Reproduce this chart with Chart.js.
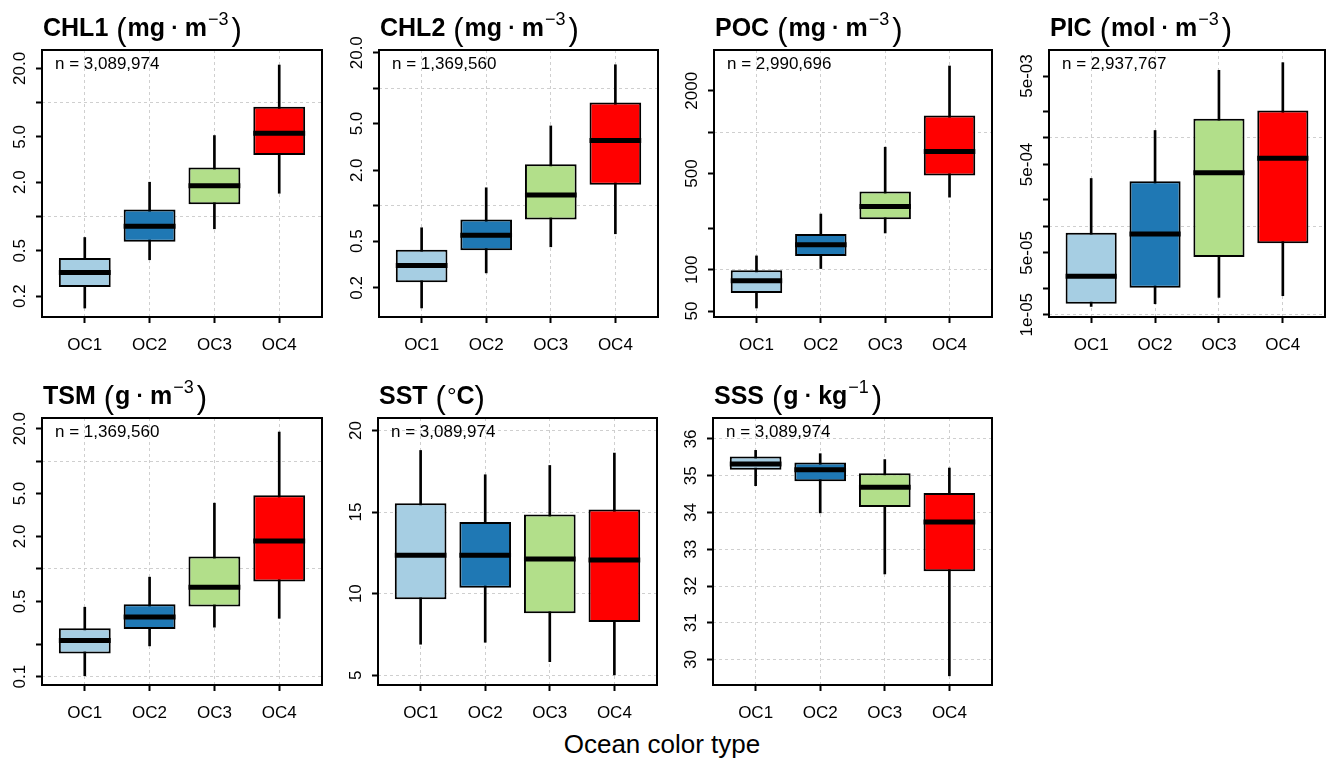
<!DOCTYPE html>
<html>
<head>
<meta charset="utf-8">
<script src="https://cdn.jsdelivr.net/npm/chart.js@4/dist/chart.umd.min.js"></script>
<style>
  body { margin: 0; background: #fff; width: 1330px; height: 761px; position: relative; overflow: hidden;
         font-family: "Liberation Sans", Arial, sans-serif; }
  canvas { position: absolute; }
  #xlab { position: absolute; top: 731px; left: 662px; transform: translateX(-50%);
          font-size: 26px; line-height: 26px; white-space: nowrap; color: #000; }
</style>
</head>
<body>
<div id="xlab">Ocean color type</div>
<script>
const categories = ['OC1', 'OC2', 'OC3', 'OC4'];
const boxColors = ['#a6cee3', '#1f78b4', '#b2df8a', '#ff0000'];

// per type: [lower whisker, Q1, median, Q3, upper whisker]
const chl1Stats = [
  [0.157, 0.240, 0.323, 0.431, 0.654],
  [0.417, 0.60, 0.82, 1.15, 2.0],
  [0.78, 1.28, 1.86, 2.69, 5.14],
  [1.60, 3.46, 5.39, 9.22, 21.4]
];
const chl2Stats = [
  [0.135, 0.223, 0.31, 0.421, 0.649],
  [0.268, 0.418, 0.561, 0.764, 1.42],
  [0.447, 0.764, 1.23, 2.25, 4.77],
  [0.577, 1.51, 3.58, 7.54, 15.8]
];
const pocStats = [
  [52.7, 67.7, 83.2, 98.9, 126],
  [102, 126, 152, 182, 254],
  [185, 233, 288, 370, 778],
  [337, 484, 723, 1321, 3030]
];
const picStats = [
  [1.24e-5, 1.33e-5, 2.72e-5, 8.42e-5, 3.47e-4],
  [1.33e-5, 2.02e-5, 8.2e-5, 3.23e-4, 1.21e-3],
  [1.57e-5, 4.5e-5, 4.02e-4, 1.64e-3, 5.8e-3],
  [1.64e-5, 6.42e-5, 5.89e-4, 2.04e-3, 7.08e-3]
];
const tsmStats = [
  [0.102, 0.164, 0.216, 0.281, 0.441],
  [0.193, 0.277, 0.358, 0.470, 0.838],
  [0.288, 0.447, 0.676, 1.30, 4.07],
  [0.348, 0.762, 1.81, 4.83, 18.6]
];
const sstStats = [
  [6.90, 9.66, 12.36, 15.55, 18.78],
  [7.02, 10.37, 12.36, 14.40, 17.29],
  [5.83, 8.80, 12.13, 14.85, 17.86],
  [5.02, 8.27, 12.06, 15.16, 18.62]
];
const sssStats = [
  [34.73, 35.16, 35.32, 35.52, 35.69],
  [33.99, 34.85, 35.16, 35.36, 35.60],
  [32.33, 34.15, 34.69, 35.07, 35.44],
  [29.56, 32.40, 33.74, 34.53, 35.21]
];

// axis ticks, labels (blank = tick without label), grid lines, limits
const chlTicks = [0.2, 0.5, 1, 2, 5, 10, 20];
const chlLabels = ['0.2', '0.5', '', '2.0', '5.0', '', '20.0'];
const chlGrid = [1, 10];
const chl1Range = [0.131, 29.0];
const chl2Range = [0.113, 21.1];
const pocTicks = [50, 100, 200, 500, 1000, 2000];
const pocLabels = ['50', '100', '', '500', '', '2000'];
const pocGrid = [100, 1000];
const pocRange = [45.3, 3960];
const picTicks = [1e-5, 2e-5, 5e-5, 1e-4, 2e-4, 5e-4, 1e-3, 2e-3, 5e-3];
const picLabels = ['1e-05', '', '5e-05', '', '', '5e-04', '', '', '5e-03'];
const picGrid = [1e-5, 1e-4, 1e-3];
const picRange = [9.42e-6, 9.84e-3];
const tsmTicks = [0.1, 0.2, 0.5, 1, 2, 5, 10, 20];
const tsmLabels = ['0.1', '', '0.5', '', '2.0', '5.0', '', '20.0'];
const tsmGrid = [0.1, 1, 10];
const tsmRange = [0.0837, 25.1];
const sstTicks = [5, 10, 15, 20];
const sstLabels = ['5', '10', '15', '20'];
const sstRange = [4.40, 20.77];
const sssTicks = [30, 31, 32, 33, 34, 35, 36];
const sssLabels = ['30', '31', '32', '33', '34', '35', '36'];
const sssRange = [29.31, 36.57];

const chl1N = 'n = 3,089,974';
const chl2N = 'n = 1,369,560';
const pocN = 'n = 2,990,696';
const picN = 'n = 2,937,767';
const tsmN = 'n = 1,369,560';
const sstN = 'n = 3,089,974';
const sssN = 'n = 3,089,974';

// title pieces: b = bold, p = bracket, d = centred dot, s = superscript, g = degree
const chl1Title = [['CHL1', 'b'], ['(', 'p'], ['mg', 'b'], ['·', 'd'], ['m', 'b'], ['−3', 's'], [')', 'p']];
const chl2Title = [['CHL2', 'b'], ['(', 'p'], ['mg', 'b'], ['·', 'd'], ['m', 'b'], ['−3', 's'], [')', 'p']];
const pocTitle = [['POC', 'b'], ['(', 'p'], ['mg', 'b'], ['·', 'd'], ['m', 'b'], ['−3', 's'], [')', 'p']];
const picTitle = [['PIC', 'b'], ['(', 'p'], ['mol', 'b'], ['·', 'd'], ['m', 'b'], ['−3', 's'], [')', 'p']];
const tsmTitle = [['TSM', 'b'], ['(', 'p'], ['g', 'b'], ['·', 'd'], ['m', 'b'], ['−3', 's'], [')', 'p']];
const sstTitle = [['SST', 'b'], ['(', 'p'], ['°', 'g'], ['C', 'b'], [')', 'p']];
const sssTitle = [['SSS', 'b'], ['(', 'p'], ['g', 'b'], ['·', 'd'], ['kg', 'b'], ['−1', 's'], [')', 'p']];

const FONT = '"Liberation Sans", Arial, sans-serif';
const GRID = '#cfcfcf';

const panels = [
  { stats: chl1Stats, ticks: chlTicks, labels: chlLabels, grid: chlGrid, range: chl1Range, n: chl1N, title: chl1Title, type: 'logarithmic', rect: [42, 50, 322, 317] },
  { stats: chl2Stats, ticks: chlTicks, labels: chlLabels, grid: chlGrid, range: chl2Range, n: chl2N, title: chl2Title, type: 'logarithmic', rect: [379, 50, 658, 317] },
  { stats: pocStats, ticks: pocTicks, labels: pocLabels, grid: pocGrid, range: pocRange, n: pocN, title: pocTitle, type: 'logarithmic', rect: [714, 50, 992, 317] },
  { stats: picStats, ticks: picTicks, labels: picLabels, grid: picGrid, range: picRange, n: picN, title: picTitle, type: 'logarithmic', rect: [1049, 50, 1325, 317] },
  { stats: tsmStats, ticks: tsmTicks, labels: tsmLabels, grid: tsmGrid, range: tsmRange, n: tsmN, title: tsmTitle, type: 'logarithmic', rect: [42, 418, 322, 685] },
  { stats: sstStats, ticks: sstTicks, labels: sstLabels, grid: sstTicks, range: sstRange, n: sstN, title: sstTitle, type: 'linear', rect: [378, 418, 657, 685] },
  { stats: sssStats, ticks: sssTicks, labels: sssLabels, grid: sssTicks, range: sssRange, n: sssN, title: sssTitle, type: 'linear', rect: [713, 418, 992, 685] }
];

function drawTitle(ctx, parts, x, y) {
  ctx.textAlign = 'left';
  ctx.textBaseline = 'alphabetic';
  parts.forEach(([t, k], i) => {
    if (k === 'b') {
      ctx.font = 'bold 25px ' + FONT;
      ctx.fillText(t, x, y);
      x += ctx.measureText(t).width;
      if (i === 0) x += 8;
    } else if (k === 'p') {
      ctx.font = '31px ' + FONT;
      ctx.fillText(t, x, y + 4);
      x += ctx.measureText(t).width + 1;
    } else if (k === 'd') {
      ctx.font = 'bold 22px ' + FONT;
      ctx.fillText(' · ', x, y - 1);
      x += ctx.measureText(' · ').width;
    } else if (k === 's') {
      ctx.font = '18px ' + FONT;
      ctx.fillText(t, x + 1, y - 11);
      x += ctx.measureText(t).width + 4;
    } else if (k === 'g') {
      ctx.font = '24px ' + FONT;
      ctx.fillText(t, x, y);
      x += ctx.measureText(t).width;
    }
  });
}

function makePanel(p) {
  const [L, T, R, B] = p.rect;
  const mL = 42, mT = 50, mR = 4, mB = 45;
  const w = R - L + mL + mR, h = B - T + mT + mB;
  const cv = document.createElement('canvas');
  cv.width = w; cv.height = h;
  cv.style.left = (L - mL) + 'px';
  cv.style.top = (T - mT) + 'px';
  cv.style.width = w + 'px';
  cv.style.height = h + 'px';
  document.body.appendChild(cv);

  const decor = {
    id: 'decor',
    afterDatasetsDraw(chart) {
      // median bars
      const ctx = chart.ctx, ys = chart.scales.y, meta = chart.getDatasetMeta(0);
      ctx.save();
      ctx.strokeStyle = '#000';
      ctx.lineWidth = 5;
      meta.data.forEach((el, i) => {
        const y = ys.getPixelForValue(p.stats[i][2]);
        ctx.beginPath();
        ctx.moveTo(el.x - el.width / 2, y);
        ctx.lineTo(el.x + el.width / 2, y);
        ctx.stroke();
      });
      ctx.restore();
    },
    afterDraw(chart) {
      const ctx = chart.ctx, a = chart.chartArea, ys = chart.scales.y;
      ctx.save();
      ctx.strokeStyle = '#000';
      ctx.lineWidth = 2;
      ctx.strokeRect(a.left, a.top, a.right - a.left, a.bottom - a.top);

      // rotated y tick labels
      ctx.fillStyle = '#000';
      ctx.font = '17px ' + FONT;
      ctx.textAlign = 'center';
      ctx.textBaseline = 'alphabetic';
      p.ticks.forEach((v, i) => {
        if (!p.labels[i]) return;
        ctx.save();
        ctx.translate(a.left - 17, ys.getPixelForValue(v));
        ctx.rotate(-Math.PI / 2);
        ctx.fillText(p.labels[i], 0, 0);
        ctx.restore();
      });

      ctx.textAlign = 'left';
      ctx.font = '17px ' + FONT;
      ctx.fillText(p.n, a.left + 13, a.top + 19);

      drawTitle(ctx, p.title, a.left + 1, a.top - 14);
      ctx.restore();
    }
  };

  new Chart(cv, {
    type: 'bar',
    data: {
      datasets: [
        {
          label: 'box',
          data: p.stats.map((s, i) => ({ x: i + 1, y: [s[1], s[3]] })),
          backgroundColor: boxColors,
          borderColor: '#000',
          borderWidth: 2,
          borderSkipped: false,
          barPercentage: 0.8,
          categoryPercentage: 1,
          grouped: false
        },
        {
          label: 'whisker',
          data: p.stats.map((s, i) => ({ x: i + 1, y: [s[0], s[4]] })),
          backgroundColor: '#000',
          borderWidth: 0,
          barThickness: 2,
          grouped: false
        }
      ]
    },
    options: {
      responsive: false,
      animation: false,
      devicePixelRatio: 1,
      layout: { padding: { left: mL - 8, top: mT, right: mR, bottom: mB - 40 } },
      plugins: { legend: { display: false }, tooltip: { enabled: false }, title: { display: false } },
      scales: {
        x: {
          type: 'linear', min: 0.34, max: 4.66, offset: false,
          afterBuildTicks: s => { s.ticks = categories.map((c, i) => ({ value: i + 1 })); },
          afterFit: s => { s.height = 40; },
          ticks: { callback: v => categories[v - 1], color: '#000', font: { family: FONT, size: 17 },
                   padding: 12, maxRotation: 0, autoSkip: false },
          grid: { color: GRID, offset: false, tickLength: 6, tickColor: '#000', tickWidth: 2, tickBorderDash: [] },
          border: { display: false, dash: [3, 3] }
        },
        y: {
          type: p.type, min: p.range[0], max: p.range[1], beginAtZero: false,
          afterBuildTicks: s => { s.ticks = p.ticks.map(v => ({ value: v })); },
          afterFit: s => { s.width = 8; },
          ticks: { display: false },
          grid: {
            color: c => (c.tick && p.grid.includes(c.tick.value)) ? GRID : 'rgba(0,0,0,0)',
            tickLength: 6, tickColor: '#000', tickWidth: 2, tickBorderDash: []
          },
          border: { display: false, dash: [3, 3] }
        }
      }
    },
    plugins: [decor]
  });
}

panels.forEach(makePanel);
</script>
</body>
</html>
